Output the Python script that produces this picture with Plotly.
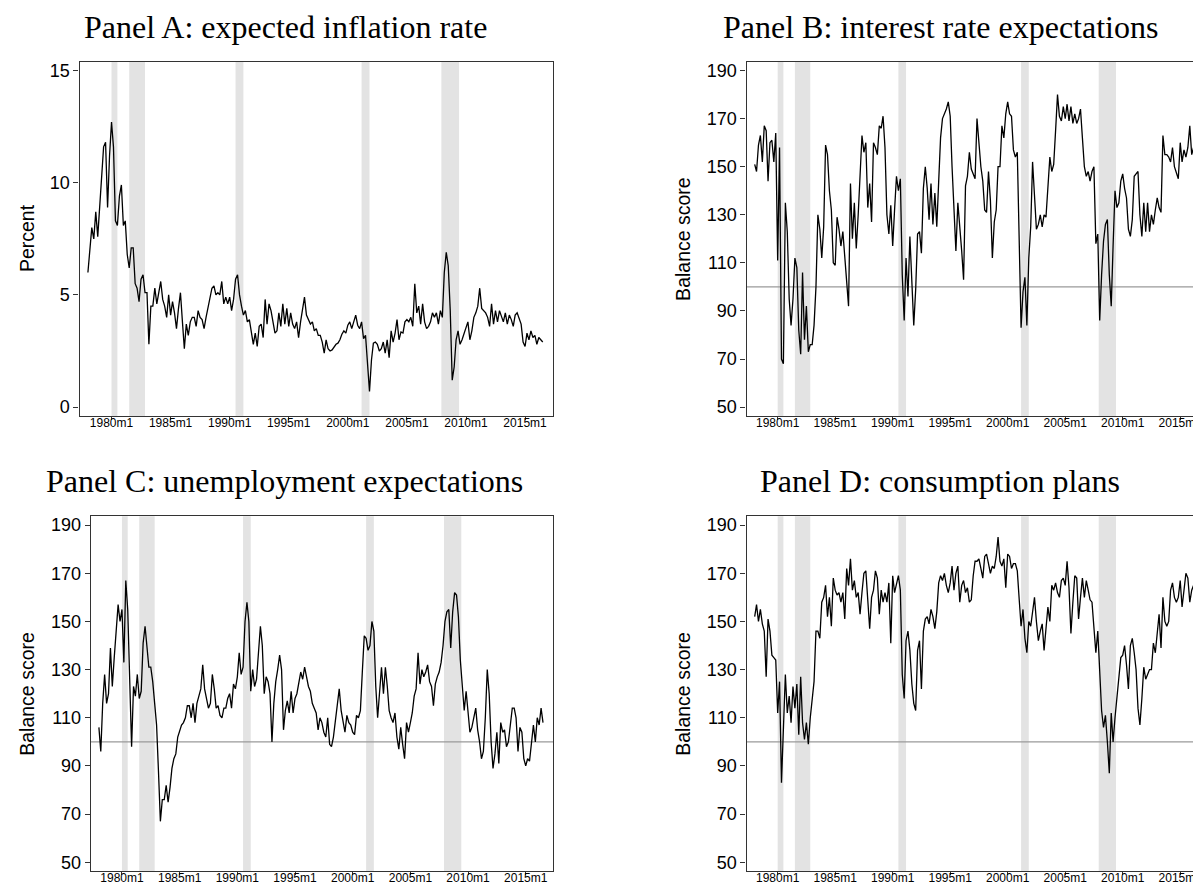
import pandas as pd
import plotly.graph_objects as go

# ---------------- data (bimonthly readings, Jan/Mar/May/Jul/Sep/Nov) ----------------
start_date = "1978-01-01"

infl = [
    6.0, 7.2, 8.0, 7.5, 8.7, 7.6,      # 1978
    9.0, 10.0, 11.6, 11.8, 8.9, 11.2,  # 1979
    12.7, 11.6, 8.3, 8.1, 9.4, 9.9,    # 1980
    8.1, 8.3, 6.8, 6.2, 7.1, 7.1,      # 1981
    5.5, 5.3, 4.7, 5.7, 5.9, 5.1,      # 1982
    5.1, 2.8, 4.5, 4.5, 5.3, 4.6,      # 1983
    5.2, 5.6, 4.8, 4.5, 4.0, 5.0,      # 1984
    4.1, 4.7, 4.2, 3.5, 4.4, 5.1,      # 1985
    3.8, 2.6, 3.7, 3.2, 3.8, 4.0,      # 1986
    4.0, 3.6, 4.3, 4.0, 3.9, 3.5,      # 1987
    4.0, 4.4, 4.8, 5.3, 5.4, 5.0,      # 1988
    5.1, 5.0, 5.6, 4.6, 4.9, 4.6,      # 1989
    4.9, 4.3, 4.8, 5.7, 5.9, 5.0,      # 1990
    4.5, 4.1, 4.3, 3.8, 3.9, 3.4,      # 1991
    2.8, 3.3, 2.7, 3.6, 3.7, 3.1,      # 1992
    4.8, 3.7, 4.6, 4.3, 3.8, 3.3,      # 1993
    3.4, 4.2, 3.6, 4.6, 3.7, 4.4,      # 1994
    3.6, 4.2, 3.7, 3.5, 3.8, 3.1,      # 1995
    3.8, 4.4, 4.9, 4.1, 3.9, 3.7,      # 1996
    3.8, 3.4, 3.5, 3.2, 3.2, 2.9,      # 1997
    2.4, 3.0, 2.6, 2.5, 2.55, 2.7,     # 1998
    2.8, 2.85, 3.0, 3.25, 3.4, 3.3,    # 1999
    3.65, 3.8, 3.5, 3.8, 4.1, 3.65,    # 2000
    3.5, 3.8, 3.05, 3.2, 2.0, 0.7,     # 2001
    2.1, 2.85, 2.9, 2.8, 2.5, 2.6,     # 2002
    2.9, 2.4, 3.0, 2.2, 3.4, 2.9,      # 2003
    3.3, 3.9, 3.0, 3.35, 3.3, 3.8,     # 2004
    3.9, 3.8, 4.0, 3.6, 5.5, 4.2,      # 2005
    4.5, 3.7, 4.6, 3.8, 3.5, 3.6,      # 2006
    3.8, 4.2, 4.0, 4.2, 3.7, 4.3,      # 2007
    4.0, 6.0, 6.9, 6.3, 4.3, 1.2,      # 2008
    1.8, 3.0, 3.4, 2.8, 3.0, 3.3,      # 2009
    3.6, 3.8, 3.0, 3.4, 4.0, 4.2,      # 2010
    4.5, 5.3, 4.4, 4.3, 4.2, 4.0,      # 2011
    3.6, 4.6, 3.7, 4.3, 3.8, 4.3,      # 2012
    4.0, 3.8, 4.2, 3.7, 4.1, 3.9,      # 2013
    3.6, 4.1, 4.2, 3.9, 3.7, 2.9,      # 2014
    2.7, 3.3, 3.0, 3.4, 3.1, 3.2,      # 2015
    2.8, 3.1, 3.0, 2.9,                # 2016
]

rates = [
    151, 148, 159, 163, 152, 167,  # 1978
    165, 144, 160, 161, 152, 164,  # 1979
    111, 158, 70, 68, 135, 123,    # 1980
    95, 84, 95, 112, 108, 82,      # 1981
    72, 106, 78, 92, 73, 76,       # 1982
    76, 84, 100, 130, 124, 112,    # 1983
    125, 159, 155, 140, 132, 110,  # 1984
    109, 129, 124, 117, 123, 113,  # 1985
    105, 92, 143, 120, 135, 116,   # 1986
    130, 150, 163, 156, 160, 133,  # 1987
    143, 127, 160, 158, 155, 167,  # 1988
    166, 171, 158, 130, 122, 134,  # 1989
    117, 132, 146, 140, 145, 105,  # 1990
    86, 112, 96, 121, 102, 84,     # 1991
    99, 122, 123, 114, 141, 150,   # 1992
    141, 128, 143, 126, 139, 125,  # 1993
    144, 162, 170, 172, 174, 177,  # 1994
    171, 150, 133, 115, 135, 126,  # 1995
    115, 103, 142, 146, 156, 149,  # 1996
    147, 145, 170, 158, 150, 144,  # 1997
    132, 131, 148, 136, 112, 127,  # 1998
    132, 150, 150, 167, 162, 172,  # 1999
    177, 172, 171, 157, 154, 156,  # 2000
    112, 83, 98, 104, 84, 112,     # 2001
    125, 152, 138, 124, 126, 130,  # 2002
    125, 130, 129, 144, 154, 148,  # 2003
    151, 165, 180, 171, 169, 175,  # 2004
    170, 176, 169, 175, 168, 172,  # 2005
    168, 170, 174, 162, 150, 146,  # 2006
    148, 144, 148, 150, 118, 122,  # 2007
    86, 105, 119, 126, 128, 105,   # 2008
    92, 117, 140, 133, 135, 144,   # 2009
    147, 141, 137, 124, 121, 128,  # 2010
    146, 147, 148, 130, 121, 135,  # 2011
    123, 135, 123, 130, 126, 132,  # 2012
    137, 133, 131, 163, 155, 155,  # 2013
    154, 152, 158, 150, 147, 145,  # 2014
    160, 152, 157, 154, 158, 167,  # 2015
    155, 158, 153, 145,            # 2016
]

unemp = [
    106, 96, 116, 128, 116, 120,   # 1978
    139, 123, 135, 145, 157, 150,  # 1979
    155, 133, 167, 155, 122, 98,   # 1980
    123, 119, 128, 118, 121, 141,  # 1981
    148, 139, 131, 131, 125, 116,  # 1982
    107, 88, 67, 76, 76, 82,       # 1983
    75, 81, 89, 93, 95, 102,       # 1984
    105, 107, 108, 110, 115, 115,  # 1985
    110, 116, 108, 116, 119, 122,  # 1986
    132, 122, 118, 114, 116, 128,  # 1987
    122, 114, 115, 111, 110, 114,  # 1988
    114, 118, 120, 114, 124, 122,  # 1989
    127, 137, 128, 131, 150, 158,  # 1990
    150, 121, 130, 123, 126, 137,  # 1991
    148, 140, 120, 127, 125, 120,  # 1992
    100, 116, 125, 130, 136, 130,  # 1993
    105, 113, 117, 112, 121, 112,  # 1994
    118, 120, 125, 129, 126, 131,  # 1995
    127, 123, 121, 116, 114, 112,  # 1996
    105, 110, 108, 104, 102, 110,  # 1997
    99, 98, 102, 108, 114, 122,    # 1998
    113, 109, 104, 111, 108, 107,  # 1999
    104, 103, 111, 110, 113, 129,  # 2000
    144, 143, 138, 140, 150, 146,  # 2001
    123, 110, 119, 131, 120, 131,  # 2002
    123, 113, 110, 108, 112, 102,  # 2003
    97, 106, 99, 93, 108, 104,     # 2004
    108, 112, 119, 122, 137, 124,  # 2005
    130, 127, 129, 132, 125, 123,  # 2006
    115, 124, 127, 129, 133, 140,  # 2007
    150, 154, 155, 139, 154, 162,  # 2008
    161, 152, 134, 124, 113, 121,  # 2009
    113, 104, 106, 110, 114, 105,  # 2010
    100, 93, 96, 110, 130, 120,    # 2011
    100, 89, 95, 104, 91, 108,     # 2012
    104, 105, 98, 100, 108, 114,   # 2013
    114, 110, 96, 106, 104, 93,    # 2014
    90, 93, 92, 100, 107, 100,     # 2015
    110, 107, 114, 108,            # 2016
]

consump = [
    152, 157, 150, 155, 149, 146,  # 1978
    127, 151, 146, 136, 135, 134,  # 1979
    112, 125, 83, 107, 128, 112,   # 1980
    119, 108, 123, 114, 124, 103,  # 1981
    127, 108, 101, 108, 99, 110,   # 1982
    118, 125, 146, 146, 143, 158,  # 1983
    160, 165, 152, 160, 148, 168,  # 1984
    163, 161, 162, 158, 162, 151,  # 1985
    172, 165, 176, 163, 167, 160,  # 1986
    162, 153, 162, 170, 171, 160,  # 1987
    147, 160, 163, 171, 168, 153,  # 1988
    163, 158, 162, 158, 166, 141,  # 1989
    169, 162, 165, 169, 163, 128,  # 1990
    118, 142, 146, 138, 124, 116,  # 1991
    113, 138, 142, 122, 146, 151,  # 1992
    152, 149, 155, 152, 147, 154,  # 1993
    166, 169, 167, 170, 165, 162,  # 1994
    166, 173, 163, 170, 173, 158,  # 1995
    165, 167, 162, 164, 158, 159,  # 1996
    169, 175, 175, 176, 172, 168,  # 1997
    177, 178, 174, 170, 173, 172,  # 1998
    177, 185, 175, 173, 176, 164,  # 1999
    178, 177, 172, 174, 174, 171,  # 2000
    159, 148, 155, 143, 137, 150,  # 2001
    148, 155, 160, 150, 142, 146,  # 2002
    149, 138, 147, 156, 150, 165,  # 2003
    163, 166, 162, 160, 167, 168,  # 2004
    165, 175, 164, 145, 158, 169,  # 2005
    168, 151, 160, 168, 160, 167,  # 2006
    163, 159, 158, 148, 137, 146,  # 2007
    128, 113, 106, 111, 100, 87,   # 2008
    112, 100, 110, 118, 124, 135,  # 2009
    136, 140, 132, 122, 140, 143,  # 2010
    137, 130, 114, 107, 118, 131,  # 2011
    126, 128, 130, 130, 141, 137,  # 2012
    144, 153, 139, 160, 150, 148,  # 2013
    150, 163, 166, 160, 158, 160,  # 2014
    167, 156, 163, 170, 168, 158,  # 2015
    163, 165, 163, 162,            # 2016
]

recessions = [
    ("1980-01-01", "1980-07-01"),
    ("1981-07-01", "1982-11-01"),
    ("1990-07-01", "1991-03-01"),
    ("2001-03-01", "2001-11-01"),
    ("2007-12-01", "2009-06-01"),
]

x_tick_vals = ["1980-01-01", "1985-01-01", "1990-01-01", "1995-01-01",
               "2000-01-01", "2005-01-01", "2010-01-01", "2015-01-01"]
x_tick_text = ["1980m1", "1985m1", "1990m1", "1995m1",
               "2000m1", "2005m1", "2010m1", "2015m1"]
pct_ticks = [0, 5, 10, 15]
score_ticks = [50, 70, 90, 110, 130, 150, 170, 190]

titles = ["Panel A: expected inflation rate", "Panel B: interest rate expectations",
          "Panel C: unemployment expectations", "Panel D: consumption plans"]
ylabels = ["Percent", "Balance score", "Balance score", "Balance score"]

# ---------------- layout geometry (pixels) ----------------
W, H = 1201, 886
X_RANGE = ["1977-04-16", "2017-05-26"]

panels = [
    dict(series=infl, xd=(71.5, 545.4), yd=(52.7, 408.0), yr=[-0.4, 15.4], yt=pct_ticks,
         tx=277, ty=17.6, lx=19.6, ly=230, ref_line=None),
    dict(series=rates, xd=(738.5, 1199.8), yd=(52.7, 408.0), yr=[46.27, 193.73], yt=score_ticks,
         tx=932, ty=17.6, lx=675.6, ly=230.8, ref_line=100),
    dict(series=unemp, xd=(82.7, 545.4), yd=(508.3, 864.2), yr=[46.27, 193.73], yt=score_ticks,
         tx=276, ty=472.6, lx=19.6, ly=686.7, ref_line=100),
    dict(series=consump, xd=(738.5, 1199.8), yd=(508.3, 864.2), yr=[46.27, 193.73], yt=score_ticks,
         tx=932, ty=472.6, lx=675.6, ly=686.7, ref_line=100),
]

SANS = "Liberation Sans, Arial, Helvetica, sans-serif"
SERIF = "Liberation Serif, Times New Roman, serif"
AXC = "#333333"

fig = go.Figure()
shapes = []
annotations = []
layout_axes = {}

for i, p in enumerate(panels):
    n = i + 1
    xa = "x" if n == 1 else f"x{n}"
    ya = "y" if n == 1 else f"y{n}"
    dates = pd.date_range(start_date, periods=len(p["series"]), freq="2MS")
    fig.add_trace(go.Scatter(x=dates, y=p["series"], mode="lines",
                             line=dict(color="black", width=1.3),
                             xaxis=xa, yaxis=ya, showlegend=False, hoverinfo="skip"))
    xkey = "xaxis" if n == 1 else f"xaxis{n}"
    ykey = "yaxis" if n == 1 else f"yaxis{n}"
    layout_axes[xkey] = dict(
        domain=[p["xd"][0] / W, p["xd"][1] / W], anchor=ya, type="date",
        range=X_RANGE, tickmode="array", tickvals=x_tick_vals, ticktext=x_tick_text,
        ticks="outside", ticklen=3, tickwidth=1.2, tickcolor=AXC, ticklabelstandoff=-8,
        showline=True, mirror=True, linecolor=AXC, linewidth=1.2,
        showgrid=False, zeroline=False,
        tickfont=dict(family=SANS, size=12, color="black"))
    layout_axes[ykey] = dict(
        domain=[1 - p["yd"][1] / H, 1 - p["yd"][0] / H], anchor=xa,
        range=p["yr"], tickmode="array", tickvals=p["yt"],
        ticks="outside", ticklen=5, tickwidth=1.2, tickcolor=AXC,
        showline=True, mirror=True, linecolor=AXC, linewidth=1.2,
        showgrid=False, zeroline=False,
        tickfont=dict(family=SANS, size=18, color="black"))
    for r0, r1 in recessions:
        shapes.append(dict(type="rect", xref=xa, yref=f"{ya} domain", x0=r0, x1=r1,
                           y0=0, y1=1, fillcolor="#e3e3e3", line=dict(width=0), layer="below"))
    if p["ref_line"] is not None:
        shapes.append(dict(type="line", xref=f"{xa} domain", yref=ya, x0=0, x1=1,
                           y0=p["ref_line"], y1=p["ref_line"],
                           line=dict(color="#9a9a9a", width=1.3), layer="below"))
    annotations.append(dict(text=titles[i], xref="paper", yref="paper",
                            x=p["tx"] / W, y=1 - p["ty"] / H, xanchor="center", yanchor="middle",
                            showarrow=False, font=dict(family=SERIF, size=32, color="black")))
    annotations.append(dict(text=ylabels[i], xref="paper", yref="paper", textangle=-90,
                            x=p["lx"] / W, y=1 - p["ly"] / H, xanchor="center", yanchor="middle",
                            showarrow=False, font=dict(family=SANS, size=19.5, color="black")))

fig.update_layout(
    width=W, height=H, margin=dict(l=0, r=0, t=0, b=0),
    paper_bgcolor="white", plot_bgcolor="white",
    shapes=shapes, annotations=annotations, showlegend=False,
    **layout_axes)

fig.write_html("out.html", config={"displayModeBar": False})
